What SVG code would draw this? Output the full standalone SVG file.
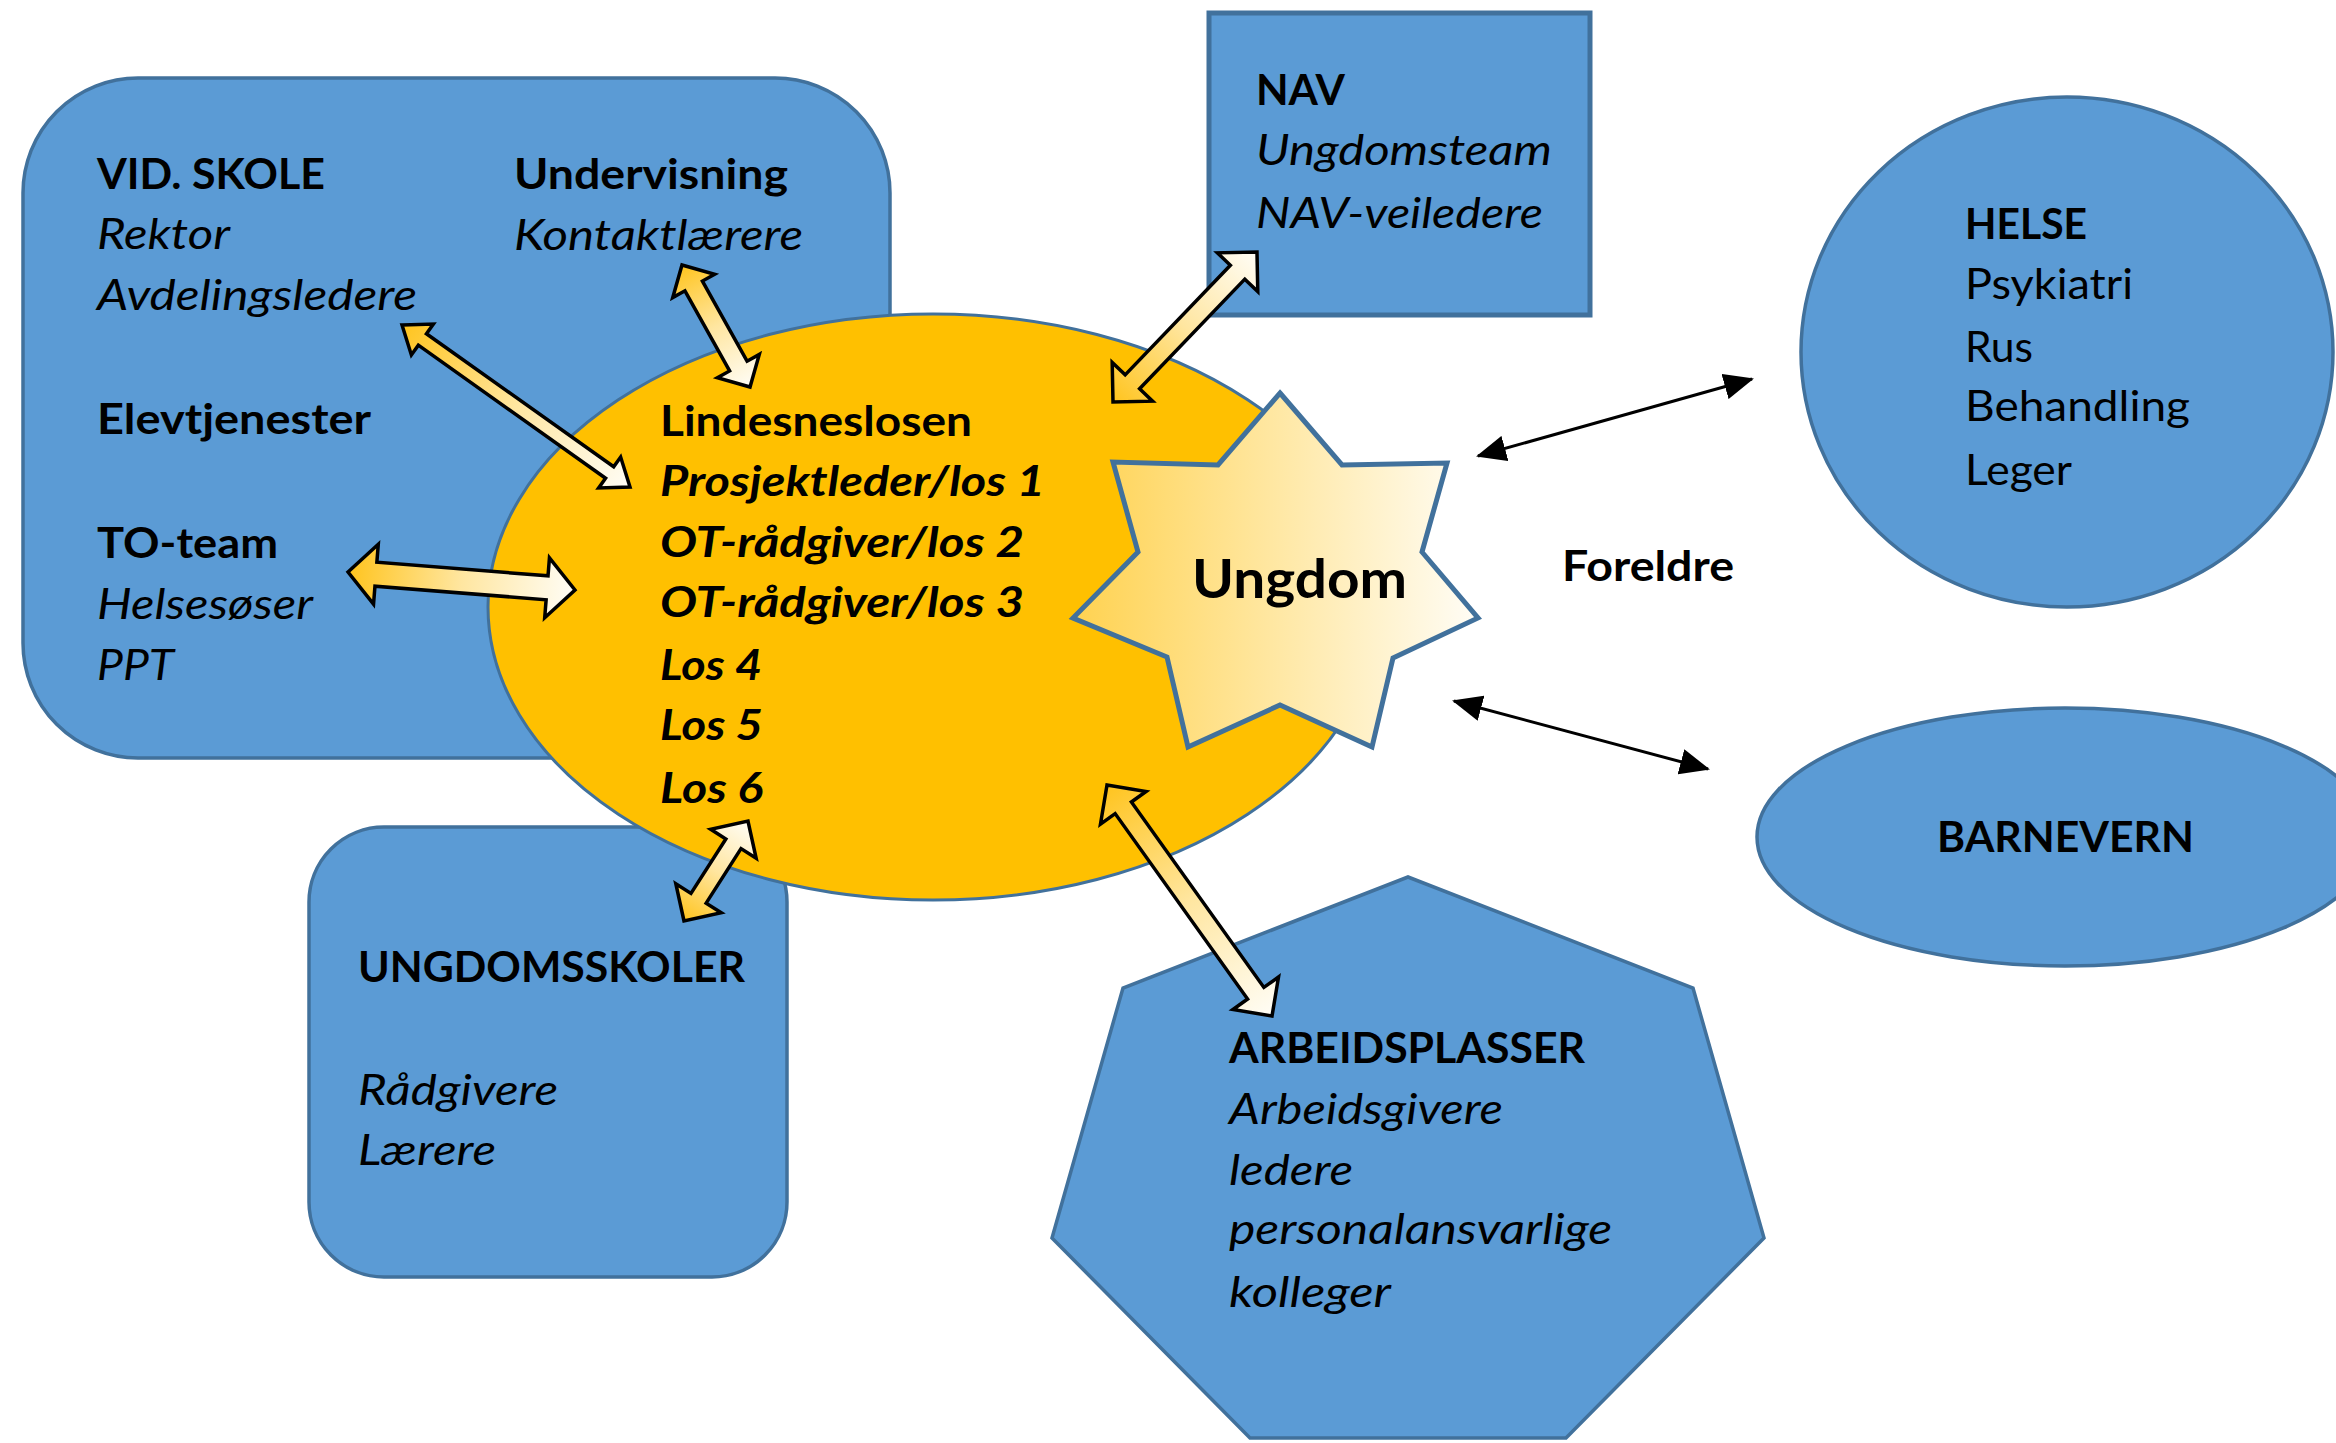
<svg xmlns="http://www.w3.org/2000/svg" width="2336" height="1443" viewBox="0 0 2336 1443">
<defs>
<style>
.blue{fill:#5B9BD5;stroke:#41719C;stroke-width:3.5}
.t{font-family:Lato,"Open Sans","Liberation Sans",sans-serif;font-size:42px;fill:#000}
.b{font-weight:bold}
.i{font-style:italic}
.ba{stroke:#000;stroke-width:3.5;stroke-linejoin:miter;fill:url(#ag)}
.thin{stroke:#000;stroke-width:3;fill:none;marker-start:url(#ah);marker-end:url(#ah)}
</style>
<linearGradient id="ag" x1="0" y1="0" x2="1" y2="0">
<stop offset="0" stop-color="#FFC41E"/>
<stop offset="0.5" stop-color="#FFE6A0"/>
<stop offset="1" stop-color="#FFFDF6"/>
</linearGradient>
<linearGradient id="sg" x1="0" y1="0" x2="1" y2="0">
<stop offset="0" stop-color="#FFD250"/>
<stop offset="1" stop-color="#FFFDF6"/>
</linearGradient>
<marker id="ah" viewBox="0 0 30 26" refX="28" refY="13" markerWidth="30" markerHeight="26" markerUnits="userSpaceOnUse" orient="auto-start-reverse">
<path d="M0,0 L30,13 L0,26 z" fill="#000"/>
</marker>
</defs>

<g id="vid-skole">
<rect class="blue" x="23" y="78" width="867" height="680" rx="115" ry="115"/>
<text class="t b" x="97" y="189" textLength="228" lengthAdjust="spacingAndGlyphs">VID. SKOLE</text>
<text class="t i" x="97" y="249" textLength="133" lengthAdjust="spacingAndGlyphs">Rektor</text>
<text class="t i" x="97" y="310" textLength="320" lengthAdjust="spacingAndGlyphs">Avdelingsledere</text>
<text class="t b" x="97" y="434" textLength="274" lengthAdjust="spacingAndGlyphs">Elevtjenester</text>
<text class="t b" x="97" y="558" textLength="181" lengthAdjust="spacingAndGlyphs">TO-team</text>
<text class="t i" x="97" y="619" textLength="216" lengthAdjust="spacingAndGlyphs">Helsesøser</text>
<text class="t i" x="97" y="680" textLength="77" lengthAdjust="spacingAndGlyphs">PPT</text>
<text class="t b" x="514" y="189" textLength="274" lengthAdjust="spacingAndGlyphs">Undervisning</text>
<text class="t i" x="514" y="250" textLength="289" lengthAdjust="spacingAndGlyphs">Kontaktlærere</text>
</g>

<g id="ungdomsskoler">
<rect class="blue" x="309" y="827" width="478" height="450" rx="75" ry="75"/>
<text class="t b" x="358" y="982" textLength="387" lengthAdjust="spacingAndGlyphs">UNGDOMSSKOLER</text>
<text class="t i" x="358" y="1105" textLength="200" lengthAdjust="spacingAndGlyphs">Rådgivere</text>
<text class="t i" x="358" y="1165" textLength="138" lengthAdjust="spacingAndGlyphs">Lærere</text>
</g>

<g id="nav">
<rect class="blue" x="1209" y="13" width="381" height="302" style="stroke-width:5"/>
<text class="t b" x="1256" y="105" textLength="89" lengthAdjust="spacingAndGlyphs">NAV</text>
<text class="t i" x="1256" y="165" textLength="296" lengthAdjust="spacingAndGlyphs">Ungdomsteam</text>
<text class="t i" x="1256" y="228" textLength="287" lengthAdjust="spacingAndGlyphs">NAV-veiledere</text>
</g>

<g id="helse">
<ellipse class="blue" cx="2067" cy="352" rx="266" ry="255"/>
<text class="t b" x="1965" y="239" textLength="122" lengthAdjust="spacingAndGlyphs">HELSE</text>
<text class="t" x="1965" y="299" textLength="168" lengthAdjust="spacingAndGlyphs">Psykiatri</text>
<text class="t" x="1965" y="362" textLength="68" lengthAdjust="spacingAndGlyphs">Rus</text>
<text class="t" x="1965" y="421" textLength="225" lengthAdjust="spacingAndGlyphs">Behandling</text>
<text class="t" x="1965" y="485" textLength="107" lengthAdjust="spacingAndGlyphs">Leger</text>
</g>

<g id="barnevern">
<ellipse class="blue" cx="2065" cy="837" rx="308" ry="129"/>
<text class="t b" x="1937" y="852" textLength="257" lengthAdjust="spacingAndGlyphs">BARNEVERN</text>
</g>

<g id="arbeidsplasser">
<polygon class="blue" points="1408,877 1693,988 1764,1238 1566,1438 1250,1438 1052,1238 1123,988"/>
<text class="t b" x="1229" y="1063" textLength="356" lengthAdjust="spacingAndGlyphs">ARBEIDSPLASSER</text>
<text class="t i" x="1229" y="1124" textLength="274" lengthAdjust="spacingAndGlyphs">Arbeidsgivere</text>
<text class="t i" x="1229" y="1185" textLength="124" lengthAdjust="spacingAndGlyphs">ledere</text>
<text class="t i" x="1229" y="1244" textLength="383" lengthAdjust="spacingAndGlyphs">personalansvarlige</text>
<text class="t i" x="1229" y="1307" textLength="162" lengthAdjust="spacingAndGlyphs">kolleger</text>
</g>

<g id="lindesneslosen">
<ellipse cx="933" cy="607" rx="445" ry="293" fill="#FFC000" stroke="#41719C" stroke-width="3"/>
<text class="t b" x="660" y="436" textLength="312" lengthAdjust="spacingAndGlyphs">Lindesneslosen</text>
<text class="t b i" x="660" y="496" textLength="385" lengthAdjust="spacingAndGlyphs">Prosjektleder/los 1</text>
<text class="t b i" x="660" y="557" textLength="364" lengthAdjust="spacingAndGlyphs">OT-rådgiver/los 2</text>
<text class="t b i" x="660" y="617" textLength="364" lengthAdjust="spacingAndGlyphs">OT-rådgiver/los 3</text>
<text class="t b i" x="660" y="680" textLength="102" lengthAdjust="spacingAndGlyphs">Los 4</text>
<text class="t b i" x="660" y="740" textLength="103" lengthAdjust="spacingAndGlyphs">Los 5</text>
<text class="t b i" x="660" y="803" textLength="103" lengthAdjust="spacingAndGlyphs">Los 6</text>
</g>

<g id="foreldre">
<text class="t b" x="1562" y="581" textLength="172" lengthAdjust="spacingAndGlyphs">Foreldre</text>
</g>

<g id="ungdom">
<polygon points="1280,393 1342,465 1447,463 1422,552 1478,618 1393,658 1372,747 1280,705 1188,747 1167,657 1073,618 1138,552 1113,462 1218,465" fill="url(#sg)" stroke="#41719C" stroke-width="5" stroke-linejoin="miter"/>
<text class="t b" x="1192" y="598" style="font-size:54px" textLength="215" lengthAdjust="spacingAndGlyphs">Ungdom</text>
</g>

<g id="connectors">
<polygon class="ba" transform="translate(682,265) rotate(60.86)" points="0,0 24,-24 24,-10 115.7,-10 115.7,-24 139.7,0 115.7,24 115.7,10 24,10 24,24"/>
<polygon class="ba" transform="translate(402,325) rotate(35.39)" points="0,0 25,-19 25,-7 254.7,-7 254.7,-19 279.7,0 254.7,19 254.7,7 25,7 25,19"/>
<polygon class="ba" transform="translate(348,572) rotate(4.53)" points="0,0 28,-30 28,-12 199.7,-12 199.7,-30 227.7,0 199.7,30 199.7,12 28,12 28,30"/>
<polygon class="ba" transform="translate(1113,402) rotate(-46.17)" points="0,0 28,-28 28,-10 179.9,-10 179.9,-28 207.9,0 179.9,28 179.9,10 28,10 28,28"/>
<polygon class="ba" transform="translate(684,921) rotate(-57.38)" points="0,0 27,-27 27,-9 91.7,-9 91.7,-27 118.7,0 91.7,27 91.7,9 27,9 27,27"/>
<polygon class="ba" transform="translate(1107,785) rotate(54.46)" points="0,0 28,-28 28,-10 255.9,-10 255.9,-28 283.9,0 255.9,28 255.9,10 28,10 28,28"/>
<line class="thin" x1="1478" y1="456" x2="1752" y2="379"/>
<line class="thin" x1="1454" y1="701" x2="1708" y2="769"/>
</g>
</svg>
